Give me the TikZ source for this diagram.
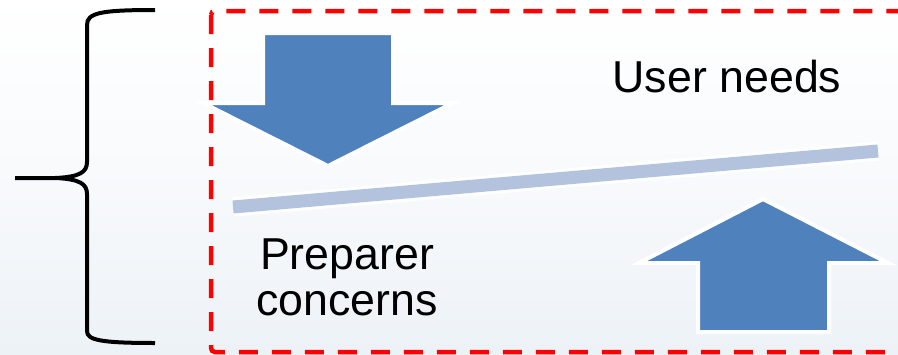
\documentclass[tikz,border=0pt]{standalone}
\usepackage{fontspec}
\setmainfont{Liberation Sans}
\usepackage{xcolor}
\definecolor{arrowblue}{HTML}{4F81BD}
\definecolor{beamblue}{HTML}{B3C3DD}
\definecolor{bgtint}{HTML}{EDF2F7}
\begin{document}
\begin{tikzpicture}[x=1pt, y=-1pt,
  bigarrow/.style={fill=arrowblue, draw=white, line width=4pt, line join=miter},
  beam/.style={draw=white, line width=3pt, double=beamblue, double distance=13pt},
  frame/.style={draw=red, line width=4.5pt, dash pattern=on 19pt off 14pt, rounded corners=4pt},
  brace/.style={draw=black, line width=4pt},
  lbl/.style={font=\fontsize{44.7}{46}\selectfont, inner sep=0pt, align=center}]
\useasboundingbox (0,0) rectangle (898,354);
\shade[top color=white, bottom color=bgtint, middle color=white!60!bgtint] (0,0) rectangle (898,354);
\draw[brace] (155,10) .. controls (100,10) and (87,13) .. (87,25) -- (87,162)
  .. controls (87,172) and (80,177) .. (55,178) -- (15,178)
  -- (55,178) .. controls (80,179) and (87,184) .. (87,194) -- (87,331)
  .. controls (87,340) and (100,343) .. (155,343);
\draw[bigarrow] (263,33) -- (393,33) -- (393,103) -- (453,103) -- (328,166)
  -- (203,103) -- (263,103) -- cycle;
\draw[bigarrow] (698,332) -- (829,332) -- (829,263) -- (888,263) -- (763,199)
  -- (639,263) -- (698,263) -- cycle;
\coordinate (beamL) at (233,207);
\coordinate (beamR) at (878,151);
\draw[beam] (beamL) -- (beamR);
\node[lbl, anchor=base] (user) at (727,92) {User needs};
\node[lbl, anchor=base] (prep) at (347,315) {Preparer\\concerns};
\draw[frame] (211,11) rectangle (915,352);
\end{tikzpicture}
\end{document}
